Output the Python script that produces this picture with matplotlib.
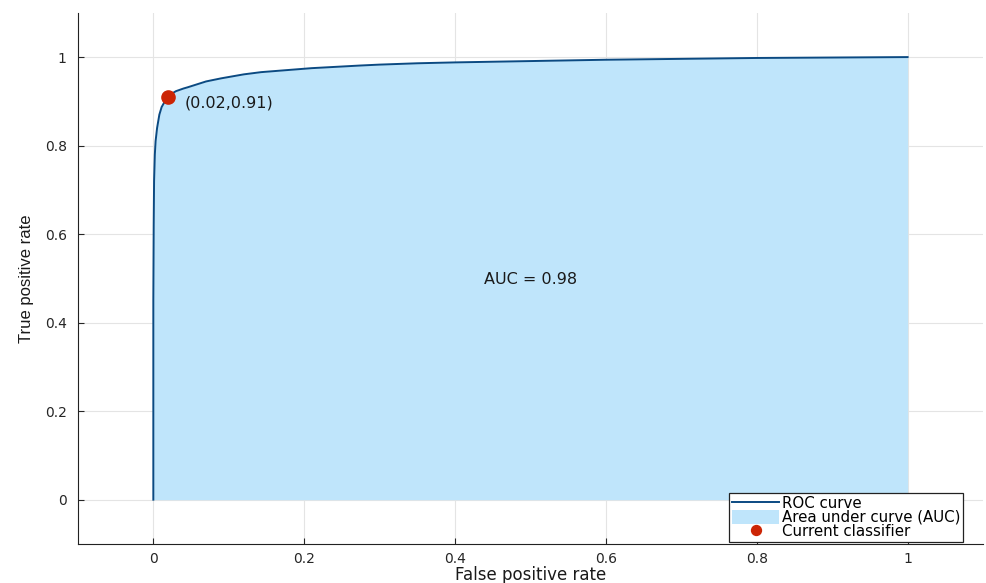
import numpy as np
import matplotlib.pyplot as plt

plt.rcParams['font.family'] = ['DejaVu Sans']

# ROC points (false positive rate, true positive rate)
fpr = [0.0, 0.0, 0.0005, 0.001, 0.002, 0.003, 0.005, 0.008, 0.011, 0.016, 0.02,
       0.025, 0.03, 0.04, 0.046, 0.07, 0.09, 0.12, 0.143, 0.21, 0.275, 0.3, 0.35,
       0.4, 0.5, 0.6, 0.7, 0.8, 0.9, 1.0]
tpr = [0.0, 0.45, 0.62, 0.72, 0.78, 0.81, 0.84, 0.87, 0.887, 0.902, 0.91,
       0.918, 0.923, 0.929, 0.932, 0.945, 0.952, 0.961, 0.966, 0.975, 0.981, 0.983, 0.986,
       0.988, 0.991, 0.994, 0.996, 0.998, 0.999, 1.0]
op_point = (0.02, 0.91)
auc_value = 0.98

fig = plt.figure(figsize=(9.86, 5.83), dpi=100)
ax = fig.add_axes([0.079, 0.067, 0.918, 0.911])

ax.fill_between(fpr, tpr, 0, color='#bfe5fb', linewidth=0, label='Area under curve (AUC)')
ax.plot(fpr, tpr, color='#0b4a82', linewidth=1.4, label='ROC curve')
ax.plot(op_point[0], op_point[1], 'o', color='#cc2505', markersize=9.5,
        label='Current classifier', zorder=5)

ax.text(op_point[0] + 0.021, op_point[1] - 0.013,
        '(%.2f,%.2f)' % op_point, fontsize=11.5, va='center', ha='left', color='#1a1a1a')
ax.text(0.5, 0.497, 'AUC = %.2f' % auc_value, fontsize=11.5, ha='center', va='center',
        color='#1a1a1a')

ax.set_xlim(-0.1, 1.1)
ax.set_ylim(-0.1, 1.1)
ax.set_xticks([0, 0.2, 0.4, 0.6, 0.8, 1])
ax.set_yticks([0, 0.2, 0.4, 0.6, 0.8, 1])
ax.set_xticklabels(['0', '0.2', '0.4', '0.6', '0.8', '1'])
ax.set_yticklabels(['0', '0.2', '0.4', '0.6', '0.8', '1'])
ax.tick_params(direction='in', length=4, labelsize=10, colors='#262626')
ax.tick_params(axis='y', pad=8)
ax.tick_params(axis='x', pad=6)
ax.grid(True, color='#e4e4e4', linewidth=0.8)
ax.set_axisbelow(True)
for side in ['top', 'right']:
    ax.spines[side].set_visible(False)
for side in ['left', 'bottom']:
    ax.spines[side].set_color('#222222')

ax.set_xlabel('False positive rate', fontsize=12, labelpad=0, color='#1a1a1a')
ax.set_ylabel('True positive rate', fontsize=12, labelpad=8, color='#1a1a1a',
              family=['Liberation Sans', 'DejaVu Sans'])

handles, labels = ax.get_legend_handles_labels()
order = [1, 0, 2]
leg = ax.legend([handles[i] for i in order], [labels[i] for i in order],
                loc='lower right', bbox_to_anchor=(0.977, 0.07),
                bbox_transform=fig.transFigure, fontsize=10.8, frameon=True,
                fancybox=False, edgecolor='#222222', borderpad=0.2,
                labelspacing=-0.05, handlelength=3.1, handleheight=1.0,
                handletextpad=0.2, borderaxespad=0, markerscale=0.75,
                framealpha=1)
leg.get_frame().set_linewidth(0.9)

fig.savefig('out.png', dpi=100)
